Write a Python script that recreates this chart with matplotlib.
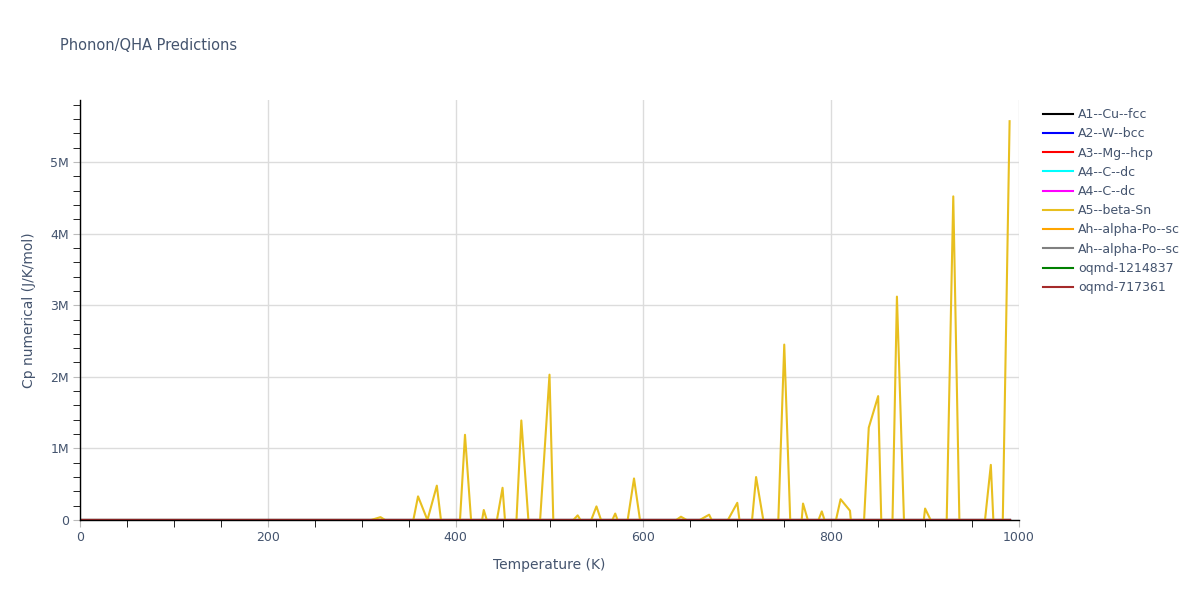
"""
Phonon/QHA predictions: Cp numerical vs temperature.
"""
import matplotlib
matplotlib.use("Agg")
import matplotlib.pyplot as plt
from matplotlib.ticker import FuncFormatter, MultipleLocator


OUTPUT_PATH = "out.png"

TEMPERATURES = list(range(0, 1000, 10))

# A5--beta-Sn, Cp numerical (J/K/mol), one value per 10 K step (0..990 K)
CP_BETA_SN = [
    0, 0, 0, 0, 0, 0, 0, 0, 0, 0,                      # 0-90
    0, 0, 0, 0, 0, 0, 0, 0, 0, 0,                      # 100-190
    0, 0, 0, 0, 0, 0, 0, 0, 0, 0,                      # 200-290
    0, 0, 40e3, -40e3, -100e3, -330e3, 330e3, 0, 480e3, -610e3,          # 300-390
    -1.05e6, 1.19e6, -650e3, 140e3, -300e3, 450e3, -1.3e6, 1.39e6, -460e3, 0,  # 400-490
    2.03e6, -3.0e6, -76e3, 65e3, -150e3, 190e3, -200e3, 90e3, -280e3, 580e3,  # 500-590
    -330e3, -200e3, -100e3, -46e3, 46e3, -30e3, 0, 74e3, -200e3, 0,     # 600-690
    240e3, -800e3, 600e3, -180e3, -1.44e6, 2.45e6, -1.4e6, 230e3, -220e3, 120e3,  # 700-790
    -300e3, 290e3, 130e3, -1.3e6, 1.29e6, 1.73e6, -3.5e6, 3.12e6, -1.04e6, -1.0e6,  # 800-890
    160e3, -110e3, -1.94e6, 4.52e6, -2.43e6, -1.0e6, -470e3, 770e3, -2.1e6, 5.57e6,  # 900-990
]

# every other structure sits at ~0 on this scale
CP_NEAR_ZERO = [0.0] * len(TEMPERATURES)

SERIES_LABELS = [
    "A1--Cu--fcc", "A2--W--bcc", "A3--Mg--hcp", "A4--C--dc", "A4--C--dc",
    "A5--beta-Sn", "Ah--alpha-Po--sc", "Ah--alpha-Po--sc",
    "oqmd-1214837", "oqmd-717361",
]
SERIES_COLORS = [
    "black", "blue", "red", "cyan", "magenta",
    "#e8bf1f", "orange", "gray", "green", "brown",
]

TEXT_COLOR = "#44546e"


def fmt_millions(value, _pos):
    if abs(value) < 1:
        return "0"
    return f"{value / 1e6:g}M"


def main() -> None:
    plt.rcParams["font.family"] = ["DejaVu Sans"]
    fig = plt.figure(figsize=(12, 6), dpi=100)
    ax = fig.add_axes([80 / 1200, 80 / 600, 939 / 1200, 420 / 600])

    for label, color in zip(SERIES_LABELS, SERIES_COLORS):
        values = CP_BETA_SN if label == "A5--beta-Sn" else CP_NEAR_ZERO
        ax.plot(TEMPERATURES, values, color=color, linewidth=1.5, label=label)

    ax.set_xlim(0, 1000)
    ax.set_ylim(0, 5.866e6)

    ax.xaxis.set_major_locator(MultipleLocator(200))
    ax.xaxis.set_minor_locator(MultipleLocator(50))
    ax.yaxis.set_major_locator(MultipleLocator(1e6))
    ax.yaxis.set_minor_locator(MultipleLocator(0.2e6))
    ax.yaxis.set_major_formatter(FuncFormatter(fmt_millions))

    ax.grid(True, which="major", color="#dcdcdc", linewidth=1)
    ax.set_axisbelow(True)
    for side in ("top", "right"):
        ax.spines[side].set_visible(False)
    for side in ("left", "bottom"):
        ax.spines[side].set_color("black")
        ax.spines[side].set_linewidth(1)

    ax.tick_params(which="major", length=5, color="#bbbbbb", labelsize=9,
                   labelcolor=TEXT_COLOR, pad=3)
    ax.tick_params(which="minor", length=5, color="black")

    ax.set_xlabel("Temperature (K)", fontsize=10, color=TEXT_COLOR, labelpad=10)
    ax.set_ylabel("Cp numerical (J/K/mol)", fontsize=10, color=TEXT_COLOR, labelpad=10)
    fig.text(60 / 1200, 1 - 45 / 600, "Phonon/QHA Predictions", fontsize=10.5,
             color=TEXT_COLOR, va="center", ha="left")

    fig.legend(loc="upper left", bbox_to_anchor=(1038 / 1200, 1 - 103 / 600),
               frameon=False, fontsize=9, handlelength=2.4, handletextpad=0.4,
               labelspacing=0.5, labelcolor=TEXT_COLOR, borderaxespad=0)

    # no gridline on the right edge at 1000 K
    fig.canvas.draw()
    ax.get_xgridlines()[-1].set_visible(False)

    fig.savefig(OUTPUT_PATH, dpi=100)
    plt.close(fig)
    print(f"Saved chart to {OUTPUT_PATH}")


if __name__ == "__main__":
    main()
